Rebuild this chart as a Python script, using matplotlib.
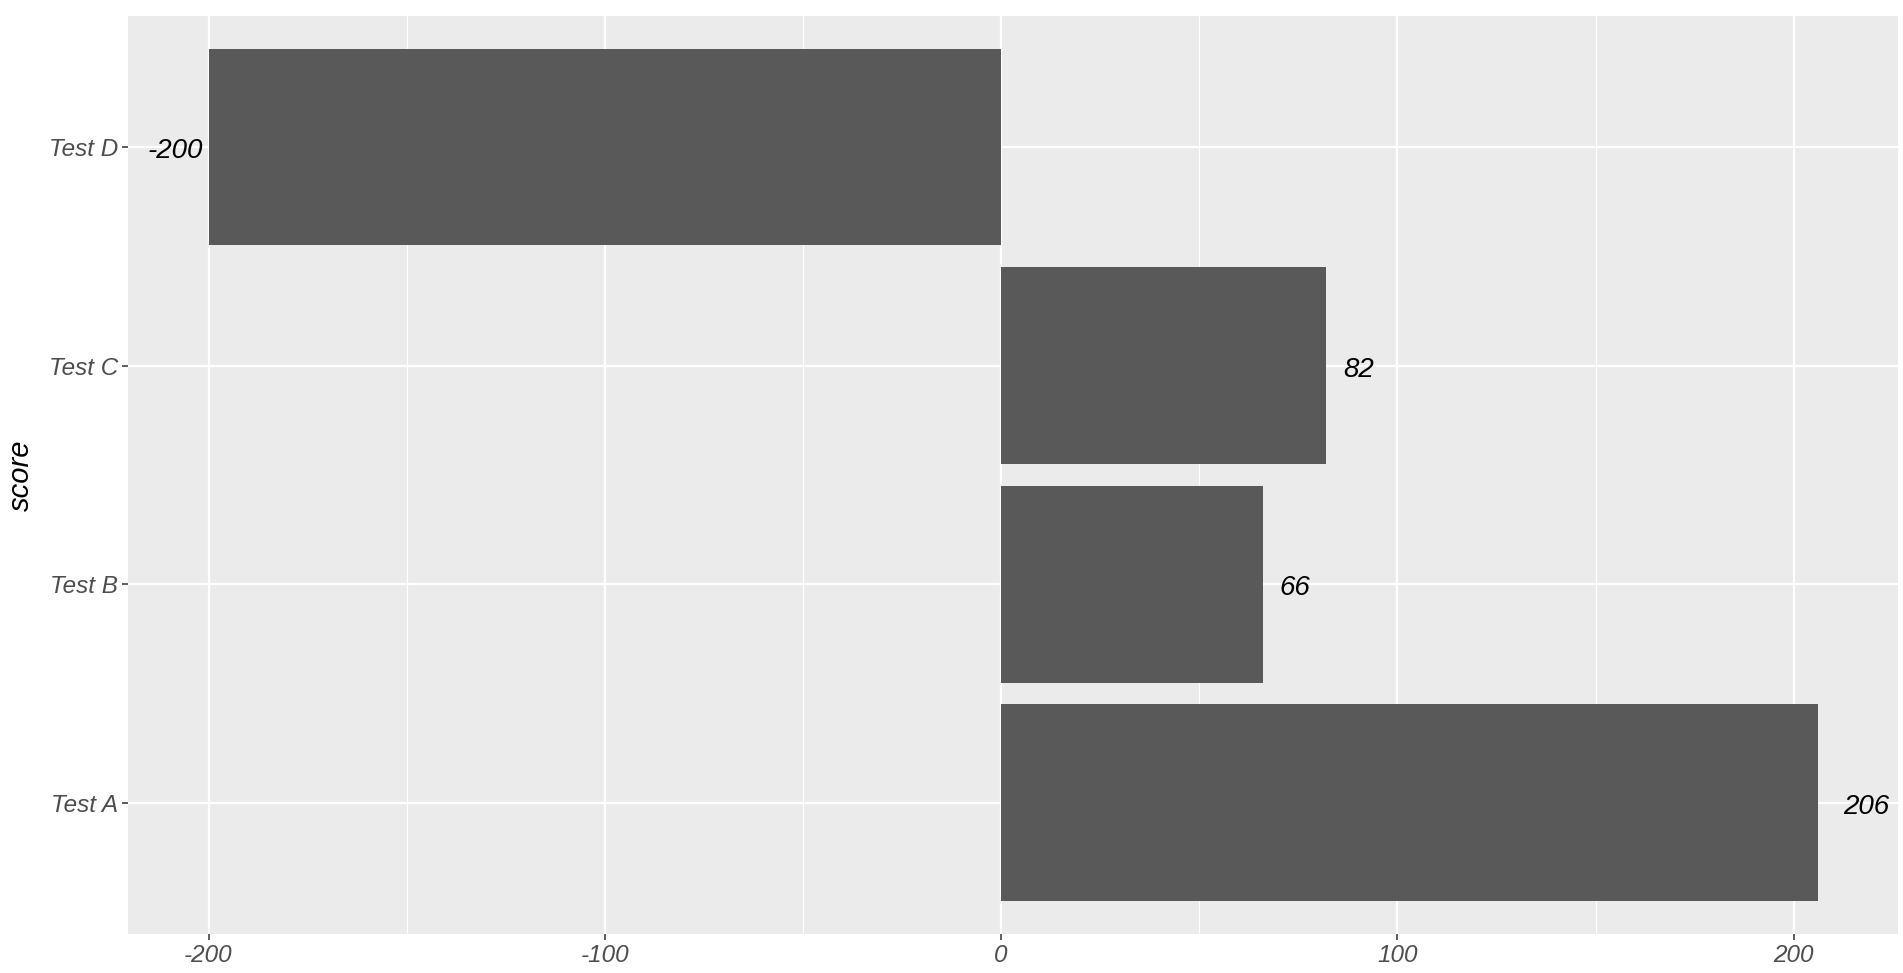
import numpy as np
import matplotlib
matplotlib.use("Agg")
import matplotlib.pyplot as plt
from matplotlib.ticker import MultipleLocator

# donnees
tests = ["Test A", "Test B", "Test C", "Test D"]
scores = [206, 66, 82, -200]

plt.rcParams['font.family'] = ['Liberation Sans', 'DejaVu Sans']
plt.rcParams['axes.unicode_minus'] = False

fig = plt.figure(figsize=(19.03, 9.73), dpi=100)
ax = fig.add_axes([0.0673, 0.0401, 0.9301, 0.9435])

pos = np.arange(1, len(tests) + 1)
ax.barh(pos, scores, height=0.9, color="#595959", zorder=3)

# etiquettes de valeur (hjust a la ggplot)
fs_lab = 20
for p, s in zip(pos, scores):
    txt = str(s)
    w = len(txt) * 0.556 * fs_lab  # largeur approx en points
    if s >= 0:
        ax.annotate(txt, (s, p), xytext=(0.55 * w, -3), textcoords="offset points",
                    ha="left", va="center", fontsize=fs_lab, style="italic", color="black", zorder=4)
    else:
        ax.annotate(txt, (s, p), xytext=(-4, -3), textcoords="offset points",
                    ha="right", va="center", fontsize=fs_lab, style="italic", color="black", zorder=4)

rng = max(scores) - min(scores)
ax.set_xlim(min(scores) - 0.05 * rng, max(scores) + 0.05 * rng)
ax.set_ylim(0.4, len(tests) + 0.6)

ax.set_facecolor("#EBEBEB")
ax.xaxis.set_major_locator(MultipleLocator(100))
ax.xaxis.set_minor_locator(MultipleLocator(50))
ax.set_yticks(pos)
ax.set_yticklabels(tests)
ax.grid(which="major", color="white", linewidth=1.6, zorder=0)
ax.grid(which="minor", axis="x", color="white", linewidth=0.8, zorder=0)
ax.set_axisbelow(True)
for sp in ax.spines.values():
    sp.set_visible(False)

ax.tick_params(axis="both", which="major", length=4, width=1.1, color="#333333",
               labelsize=17.5, labelcolor="#4D4D4D", pad=3)
ax.tick_params(which="minor", length=0)
for lab in ax.get_yticklabels():
    lab.set_style("italic")
    lab.set_verticalalignment("center_baseline")
for lab in ax.get_xticklabels():
    lab.set_style("italic")

ax.set_ylabel("score", fontsize=21, style="italic", labelpad=10)

fig.savefig("out.png", dpi=100)
